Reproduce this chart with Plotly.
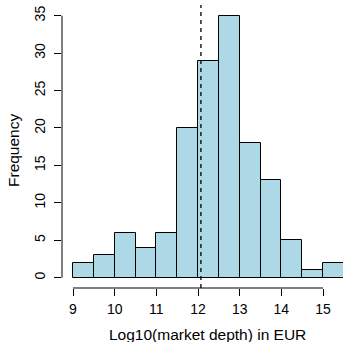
import plotly.graph_objects as go

bin_starts = [9.0, 9.5, 10.0, 10.5, 11.0, 11.5, 12.0, 12.5, 13.0, 13.5, 14.0, 14.5, 15.0]
counts = [2, 3, 6, 4, 6, 20, 29, 35, 18, 13, 5, 1, 2]
bin_width = 0.5
median_line = 12.07
x_ticks = [9, 10, 11, 12, 13, 14, 15]
y_ticks = [0, 5, 10, 15, 20, 25, 30, 35]

centers = [s + bin_width / 2 for s in bin_starts]

W, H = 343, 342
ml, mr, mt, mb = 62, 0, 5, 54
pw, ph = W - ml - mr, H - mt - mb

font = "Liberation Sans, Arial, Helvetica, sans-serif"

fig = go.Figure()
fig.add_trace(go.Bar(
    x=centers, y=counts, width=[bin_width] * len(counts),
    marker=dict(color="#ADD8E6", line=dict(color="black", width=1)),
    showlegend=False, hoverinfo="skip",
))

fig.add_shape(type="line", xref="x", yref="paper", x0=median_line, x1=median_line,
              y0=0, y1=1, line=dict(color="black", width=1.3, dash="4px,4px"))
# axis lines (R style, only spanning the ticks)
fig.add_shape(type="line", xref="x", yref="paper", x0=min(x_ticks), x1=max(x_ticks),
              y0=0, y1=0, line=dict(color="black", width=1))
fig.add_shape(type="line", xref="paper", yref="y", x0=0, x1=0,
              y0=min(y_ticks), y1=max(y_ticks), line=dict(color="black", width=1))

fig.add_annotation(text="Frequency", xref="paper", yref="paper",
                   x=(13 - ml) / pw, y=(H - mb - 151) / ph, textangle=-90,
                   showarrow=False, xanchor="center", yanchor="middle",
                   font=dict(size=15.5, color="black", family=font))
fig.add_annotation(text="Log10(market depth) in EUR", xref="paper", yref="paper",
                   x=(207.4 - ml) / pw, y=(H - mb - 334) / ph,
                   showarrow=False, xanchor="center", yanchor="middle",
                   font=dict(size=15.5, color="black", family=font))

fig.update_layout(
    width=W, height=H,
    margin=dict(l=ml, r=mr, t=mt, b=mb, pad=0),
    paper_bgcolor="white", plot_bgcolor="white",
    bargap=0,
    font=dict(family=font, color="black", size=14),
    xaxis=dict(range=[8.736, 15.48], tickvals=x_ticks, ticks="outside", ticklen=7,
               tickcolor="black", tickwidth=1, showgrid=False, zeroline=False,
               showline=False, tickfont=dict(size=14), ticklabelstandoff=1),
    yaxis=dict(range=[-1.376, 36.43], tickvals=y_ticks, ticks="outside", ticklen=7,
               tickcolor="black", tickwidth=1, showgrid=False, zeroline=False,
               showline=False, tickangle=-90, tickfont=dict(size=14), ticklabelstandoff=3),
)

fig.write_html("out.html", config={"displayModeBar": False},
               post_script="document.body.style.margin='0px';document.body.style.overflow='hidden';")
